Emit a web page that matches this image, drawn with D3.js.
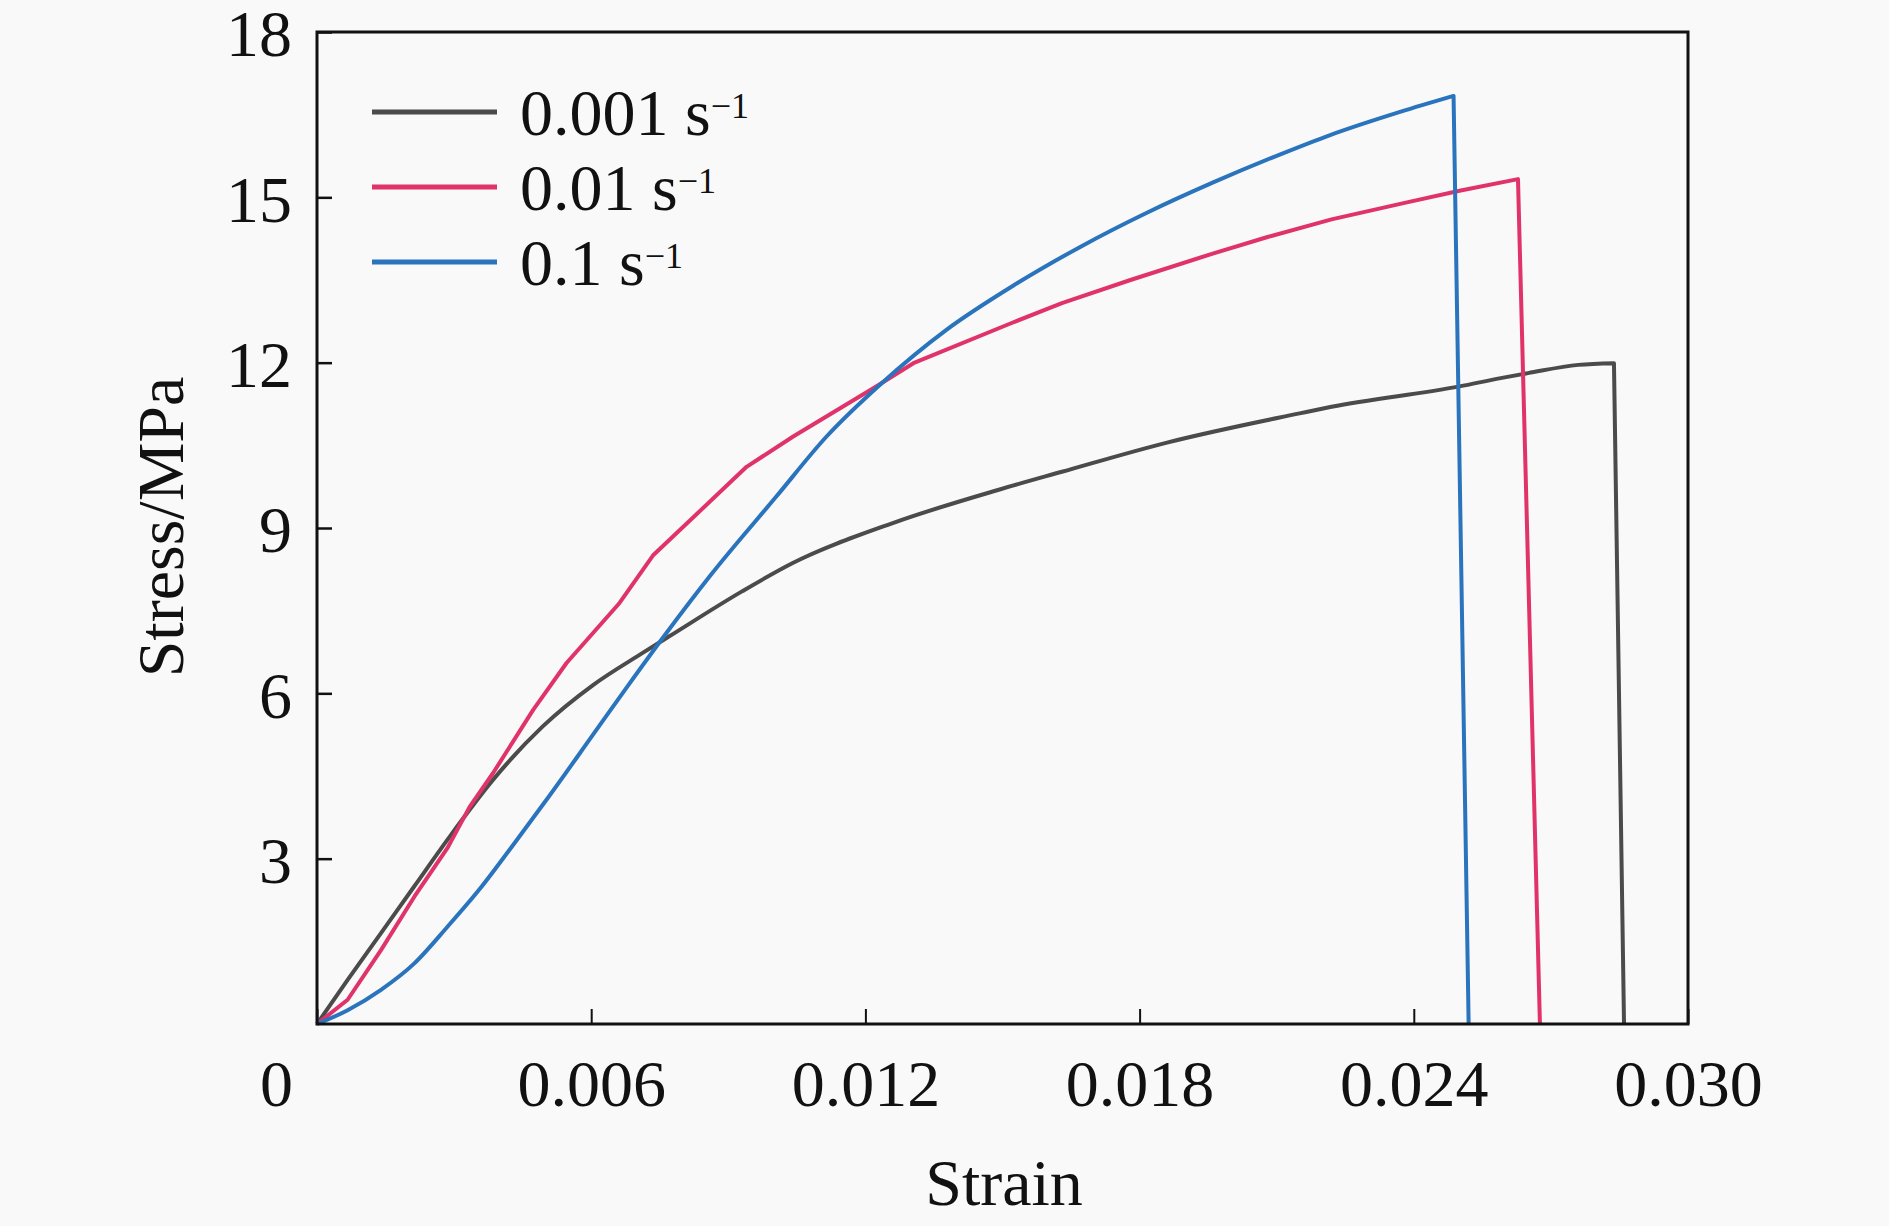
<!DOCTYPE html>
<html>
<head>
<meta charset="utf-8">
<script src="https://cdn.jsdelivr.net/npm/d3@7"></script>
<style>
  html, body { margin: 0; padding: 0; background: #f9f9f9; }
  svg text { font-family: "Liberation Serif", "Times New Roman", serif; fill: #111; }
</style>
</head>
<body>
<svg id="chart" width="1889" height="1226"></svg>
<script>
// Series labels and colours
const rates = ["0.001", "0.01", "0.1"];
const colors = ["#4b4b4b", "#e0336a", "#2a74bd"];

// 0.001 s-1
const strain1 = [0, 0.00067, 0.0014, 0.00213, 0.00286, 0.00385, 0.00494, 0.00604, 0.0071, 0.0077, 0.0093, 0.0104, 0.0126, 0.0149, 0.0163, 0.0186, 0.0215, 0.0222, 0.0250, 0.0259, 0.0265, 0.0276, 0.02838, 0.0286];
const stress1 = [0, 0.8, 1.65, 2.5, 3.35, 4.43, 5.40, 6.15, 6.72, 7.03, 7.85, 8.36, 9.09, 9.69, 10.02, 10.55, 11.08, 11.2, 11.57, 11.72, 11.81, 11.96, 11.99, 0];

// 0.01 s-1
const strain2 = [0, 0.00067, 0.0014, 0.00213, 0.00286, 0.00334, 0.00385, 0.00473, 0.00546, 0.00662, 0.00735, 0.0094, 0.01042, 0.0122, 0.01305, 0.0152, 0.0163, 0.0178, 0.0196, 0.0208, 0.0222, 0.0238, 0.0250, 0.02628, 0.02676];
const stress2 = [0, 0.44, 1.34, 2.31, 3.2, 3.94, 4.55, 5.70, 6.55, 7.64, 8.50, 10.11, 10.66, 11.55, 11.99, 12.72, 13.08, 13.5, 13.98, 14.28, 14.6, 14.9, 15.12, 15.33, 0];

// 0.1 s-1
const strain3 = [0, 0.00067, 0.0014, 0.00213, 0.00286, 0.0036, 0.00432, 0.00505, 0.00604, 0.00677, 0.00765, 0.00859, 0.01005, 0.01115, 0.01232, 0.01378, 0.01524, 0.0167, 0.01816, 0.01961, 0.02108, 0.02217, 0.0237, 0.02487, 0.0252];
const stress3 = [0, 0.25, 0.62, 1.1, 1.77, 2.49, 3.28, 4.1, 5.25, 6.1, 7.1, 8.12, 9.57, 10.66, 11.6, 12.6, 13.4, 14.1, 14.72, 15.27, 15.78, 16.13, 16.55, 16.84, 0];

// Tick values
const xTicks = [0, 0.006, 0.012, 0.018, 0.024, 0.030];
const yTicks = [3, 6, 9, 12, 15, 18];

const strains = [strain1, strain2, strain3];
const stresses = [stress1, stress2, stress3];
const curves = [d3.curveMonotoneX, d3.curveLinear, d3.curveMonotoneX];
const series = rates.map((r, i) => ({
  rate: r,
  color: colors[i],
  curve: curves[i],
  values: strains[i].map((s, j) => [s, stresses[i][j]])
}));

const svg = d3.select("#chart");
const margin = { top: 32, right: 201, bottom: 202, left: 317 };
const width = 1889 - margin.left - margin.right;
const height = 1226 - margin.top - margin.bottom;

svg.append("rect").attr("width", 1889).attr("height", 1226).attr("fill", "#f9f9f9");

const g = svg.append("g")
  .attr("transform", "translate(" + margin.left + "," + margin.top + ")");

const x = d3.scaleLinear().domain([0, 0.030]).range([0, width]);
const y = d3.scaleLinear().domain([0, 18]).range([height, 0]);

// X axis, ticks inward
const xAxis = g.append("g")
  .attr("transform", "translate(0," + height + ")")
  .call(d3.axisBottom(x).tickValues(xTicks).tickSizeInner(-15).tickSizeOuter(0).tickPadding(35)
    .tickFormat(d => d === 0 ? "0" : d3.format(".3f")(d)));
xAxis.select(".domain").remove();
xAxis.selectAll("line").attr("stroke", "#111").attr("stroke-width", 2);
xAxis.selectAll("text").attr("font-size", 66).attr("font-family", null)
  .attr("dx", d => d === 0 ? -41 : 0);

// Y axis, ticks inward
const yAxis = g.append("g")
  .call(d3.axisLeft(y).tickValues(yTicks).tickSizeInner(-15).tickSizeOuter(0).tickPadding(25));
yAxis.select(".domain").remove();
yAxis.selectAll("line").attr("stroke", "#111").attr("stroke-width", 2.5);
yAxis.selectAll("text").attr("font-size", 66).attr("font-family", null).attr("dy", "0.36em");

// Curves: smooth rise, straight drop at failure
function curvePath(d) {
  const rise = d.values.slice(0, -1);
  const last = d.values[d.values.length - 1];
  const line = d3.line().x(p => x(p[0])).y(p => y(p[1])).curve(d.curve);
  return line(rise) + "L" + x(last[0]) + "," + y(last[1]);
}

g.selectAll(".curve")
  .data(series)
  .enter()
  .append("path")
  .attr("class", "curve")
  .attr("d", curvePath)
  .attr("fill", "none")
  .attr("stroke", d => d.color)
  .attr("stroke-width", 4)
  .attr("stroke-linejoin", "round");

// Frame
g.append("rect")
  .attr("width", width).attr("height", height)
  .attr("fill", "none").attr("stroke", "#111").attr("stroke-width", 3);

// Legend
const legend = g.selectAll(".legend")
  .data(series)
  .enter()
  .append("g")
  .attr("class", "legend")
  .attr("transform", (d, i) => "translate(55," + (80 + i * 75) + ")");
legend.append("line")
  .attr("x1", 0).attr("x2", 125)
  .attr("stroke", d => d.color).attr("stroke-width", 5);
const lt = legend.append("text")
  .attr("x", 148).attr("y", 23)
  .attr("font-size", 66);
lt.append("tspan").text(d => d.rate + " s");
lt.append("tspan").attr("font-size", 36).attr("dy", -17).text("\u22121");

// Axis titles
svg.append("text")
  .attr("x", 1004).attr("y", 1205)
  .attr("text-anchor", "middle")
  .attr("font-size", 66)
  .text("Strain");
svg.append("text")
  .attr("transform", "translate(183,527) rotate(-90)")
  .attr("text-anchor", "middle")
  .attr("font-size", 66)
  .text("Stress/MPa");
</script>
</body>
</html>
